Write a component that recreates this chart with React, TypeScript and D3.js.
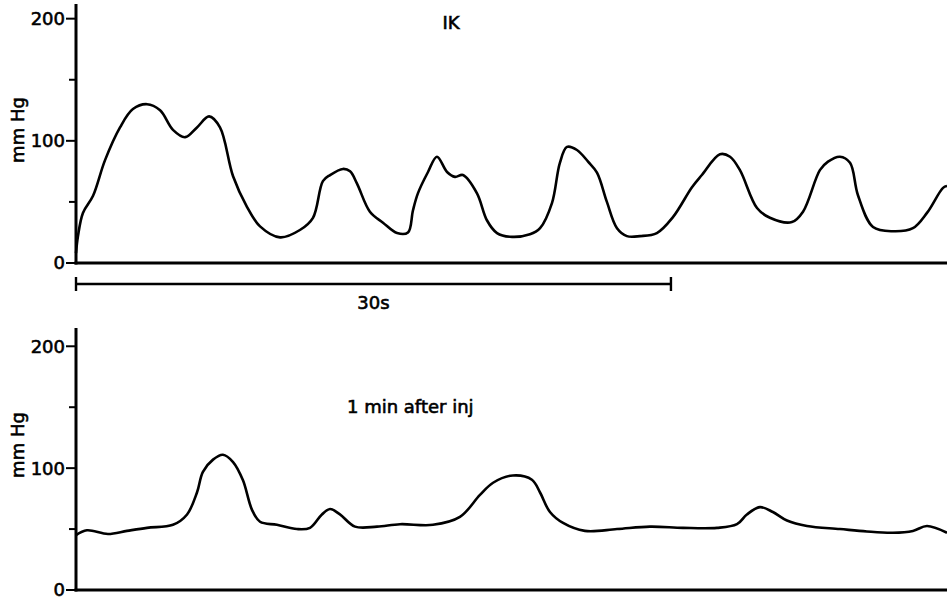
import React from "react";
import * as d3 from "d3";

const W = 947;
const H = 601;

// time in seconds, pressure in mm Hg
const topTime = [0, 0.1, 0.35, 0.86, 1.46, 2.22, 2.87, 3.58, 4.24, 4.89, 5.5, 6.1, 6.71, 7.26, 7.92, 8.62, 9.28, 10.29, 11.29, 11.95, 12.45, 12.81, 13.46, 13.82, 14.17, 14.82, 15.48, 16.19, 16.74, 16.99, 17.24, 17.75, 18.2, 18.71, 19.11, 19.51, 20.22, 20.72, 21.23, 21.88, 22.89, 23.4, 24.0, 24.4, 24.76, 25.26, 25.82, 26.27, 26.77, 27.28, 27.78, 28.44, 29.29, 30.1, 31.06, 31.56, 32.47, 32.98, 33.48, 34.34, 34.99, 36.1, 36.66, 37.51, 37.92, 38.52, 39.03, 39.43, 40.19, 41.19, 42.2, 42.91, 43.72, 43.92];
const topPressure = [8, 22, 41, 55, 84, 111, 126, 130, 125, 109, 103, 111, 120, 111, 71, 46, 30, 21, 27, 37, 67, 72, 77, 75, 65, 42, 33, 24.5, 25, 43, 57, 74.5, 87, 74.5, 70.5, 72, 57, 35, 24.5, 21.5, 23.5, 28.5, 49, 82, 95, 92.5, 83, 74, 50, 28.5, 22, 22, 24.5, 37.5, 62, 72, 89, 87, 76, 45, 37, 33.5, 42, 76, 83, 87, 82, 55.5, 29.5, 26, 28.5, 41, 61.5, 63];

const bottomTime = [0, 0.55, 1.61, 2.57, 3.58, 4.89, 5.6, 6.1, 6.4, 6.91, 7.41, 7.92, 8.42, 8.87, 9.28, 10.13, 11.14, 11.8, 12.4, 12.81, 13.31, 14.07, 15.18, 16.34, 18.0, 19.36, 20.37, 21.03, 22.03, 22.99, 23.4, 23.9, 24.56, 25.66, 27.28, 28.94, 30.61, 32.32, 33.33, 33.83, 34.49, 35.14, 35.85, 36.86, 38.52, 39.88, 41.19, 42.2, 42.91, 43.92];
const bottomPressure = [45, 49, 46, 48.5, 51, 53.5, 62, 80, 97, 107, 111, 105, 90, 66, 56, 53.5, 50, 51, 62, 66.5, 62, 52, 52, 54, 53.5, 60, 78, 88, 94, 90.5, 80, 64, 55, 48.5, 50, 52, 51, 51, 54, 62, 68, 64, 57, 52.5, 50, 48, 47, 48.5, 52.5, 47];

const majorTicks = [0, 100, 200];
const minorTicks = [50, 150];
const yLabel = "mm Hg";
const topTitle = "IK";
const bottomTitle = "1 min after inj";
const scaleBarSeconds = 30;
const scaleBarLabel = "30s";
const totalSeconds = 43.92;

const FONT = "DejaVu Sans, sans-serif";
// the scanned lettering is heavier than a regular face
const textStyle = { fontSize: 18, fontFamily: FONT, stroke: "#000", strokeWidth: 0.6 };

const xScale = d3.scaleLinear().domain([0, totalSeconds]).range([76, 947]);

const panels = [
  {
    time: topTime,
    pressure: topPressure,
    y: d3.scaleLinear().domain([0, 212]).range([263, 4]),
    title: topTitle,
    titleX: 451,
    titleY: 29,
    titleAnchor: "middle",
    labelY: 130,
  },
  {
    time: bottomTime,
    pressure: bottomPressure,
    y: d3.scaleLinear().domain([0, 215]).range([590, 328]),
    title: bottomTitle,
    titleX: 347,
    titleY: 413,
    titleAnchor: "start",
    labelY: 445,
  },
];

const Panel = ({ p }: { p: any }) => {
  const pts = p.time.map((t: number, i: number) => [t, p.pressure[i]]);
  const line = d3
    .line<number[]>()
    .x((d) => xScale(d[0]))
    .y((d) => p.y(d[1]))
    .curve(d3.curveCatmullRom.alpha(0.5));
  const [y0, yTop] = p.y.range();
  const x0 = xScale(0);
  return (
    <g>
      <path d={line(pts) || ""} fill="none" stroke="#000" strokeWidth={2.6} strokeLinejoin="round" />
      <line x1={x0} x2={x0} y1={y0 + 1.5} y2={yTop} stroke="#000" strokeWidth={3} />
      <line x1={x0 - 1.5} x2={xScale.range()[1]} y1={y0} y2={y0} stroke="#000" strokeWidth={3} />
      {majorTicks.map((v) => (
        <g key={v}>
          <line x1={x0 - 10} x2={x0} y1={p.y(v)} y2={p.y(v)} stroke="#000" strokeWidth={2} />
          <text x={x0 - 11} y={p.y(v)} dy="0.36em" textAnchor="end" style={textStyle}>
            {v}
          </text>
        </g>
      ))}
      {minorTicks.map((v) => (
        <line key={v} x1={x0 - 7} x2={x0} y1={p.y(v)} y2={p.y(v)} stroke="#000" strokeWidth={2} />
      ))}
      <text transform={`translate(24,${p.labelY}) rotate(-90)`} textAnchor="middle" style={textStyle}>
        {yLabel}
      </text>
      <text x={p.titleX} y={p.titleY} textAnchor={p.titleAnchor} style={textStyle}>
        {p.title}
      </text>
    </g>
  );
};

export default function App() {
  const barY = 284;
  const bx0 = xScale(0);
  const bx1 = xScale(scaleBarSeconds);
  return (
    <svg
      width={W}
      height={H}
      viewBox={`0 0 ${W} ${H}`}
      style={{ position: "absolute", left: 0, top: 0, background: "#fff" }}
    >
      {panels.map((p, i) => (
        <Panel key={i} p={p} />
      ))}
      <line x1={bx0} x2={bx1} y1={barY} y2={barY} stroke="#000" strokeWidth={2.4} />
      <line x1={bx0} x2={bx0} y1={barY - 7} y2={barY + 7} stroke="#000" strokeWidth={2.4} />
      <line x1={bx1} x2={bx1} y1={barY - 7} y2={barY + 7} stroke="#000" strokeWidth={2.4} />
      <text x={xScale(scaleBarSeconds / 2)} y={309} textAnchor="middle" style={textStyle}>
        {scaleBarLabel}
      </text>
    </svg>
  );
}
